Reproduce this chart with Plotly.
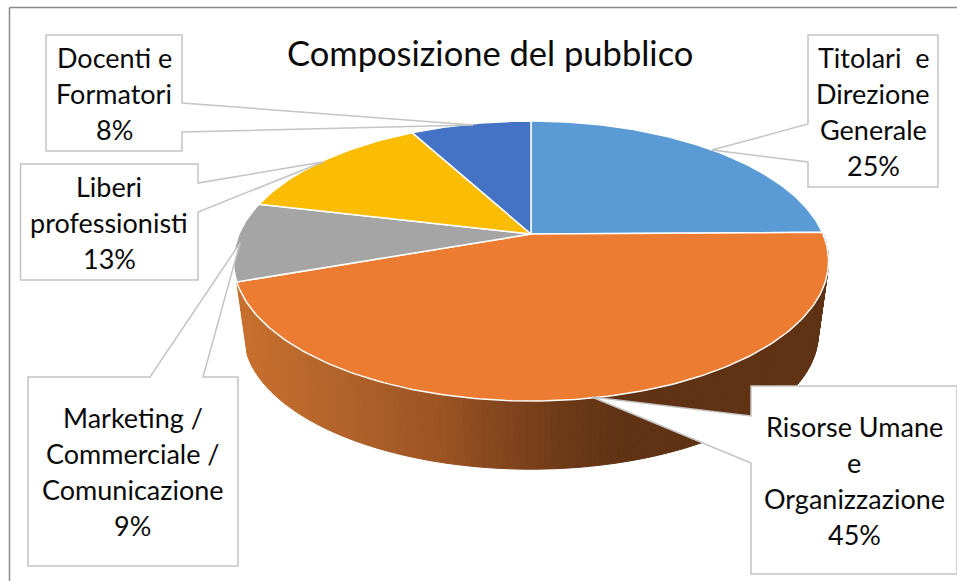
import math
import plotly.graph_objects as go

# ---- data ----
categories = [
    ["Titolari  e", "Direzione", "Generale"],
    ["Risorse Umane", "e", "Organizzazione"],
    ["Marketing /", "Commerciale /", "Comunicazione"],
    ["Liberi", "professionisti"],
    ["Docenti e", "Formatori"],
]
values = [24.8, 44.8, 9.1, 13.4, 7.9]
colors = ["#5b9bd5", "#eb7c32", "#a5a5a5", "#fbbc04", "#4472c4"]
title = "Composizione del pubblico"

# ---- layout styling ----
FONT = "Lato"
CX, CY = 531.0, 234.0          # apex of the pie on screen
A, B, K = 134.8, 292.0, 0.193  # perspective projection of the top disc
BOT_CY, BOT_S = 308.0, 0.965   # bottom disc
BOX = "#c4c4c4"
TXT = "#0a0a0a"


def proj(theta, r=1.0, cy=CY, s=1.0):
    X, Y = r * math.sin(theta), r * math.cos(theta)
    d = 1 + K * Y
    return CX + s * B * X / d, cy - s * A * Y / d


def lerp_color(x):
    stops = [(240, (200, 112, 46)), (350, (176, 98, 42)), (440, (157, 83, 35)),
             (480, (138, 74, 32)), (560, (110, 58, 23)), (625, (95, 50, 19)), (960, (95, 50, 19))]
    for (x0, c0), (x1, c1) in zip(stops, stops[1:]):
        if x <= x1:
            t = max(0.0, (x - x0) / (x1 - x0))
            return "rgb(%d,%d,%d)" % tuple(round(a + (b - a) * t) for a, b in zip(c0, c1))
    return "rgb(95,50,19)"


total = sum(values)
angles = [0.0]
for v in values:
    angles.append(angles[-1] + v / total * 2 * math.pi)

fig = go.Figure()

# side wall of the big front slice, shaded strip by strip
a0, a1 = angles[1], angles[2]
N = 160
for i in range(N):
    t0 = a0 + (a1 - a0) * i / N
    t1 = a0 + (a1 - a0) * (i + 1) / N
    p = [proj(t0), proj(t1), proj(t1, cy=BOT_CY, s=BOT_S), proj(t0, cy=BOT_CY, s=BOT_S)]
    xs = [q[0] for q in p] + [p[0][0]]
    ys = [q[1] for q in p] + [p[0][1]]
    col = lerp_color(sum(xs[:4]) / 4)
    fig.add_trace(go.Scatter(x=xs, y=ys, mode="lines", fill="toself", fillcolor=col,
                             line=dict(color=col, width=1), hoverinfo="skip", showlegend=False))

# top face slices
for v, c, a, b in zip(values, colors, angles, angles[1:]):
    n = max(4, int(v * 4))
    pts = [proj(a + (b - a) * j / n) for j in range(n + 1)]
    xs = [CX] + [q[0] for q in pts] + [CX]
    ys = [CY] + [q[1] for q in pts] + [CY]
    fig.add_trace(go.Scatter(x=xs, y=ys, mode="lines", fill="toself", fillcolor=c,
                             line=dict(color="#ffffff", width=1.5), hoverinfo="skip",
                             showlegend=False))

shapes = [
    # outer frame
    dict(type="line", x0=9.5, x1=9.5, y0=7.5, y1=581, line=dict(color="#8c8c8c", width=1.5)),
    dict(type="line", x0=9.5, x1=957, y0=7.5, y1=7.5, line=dict(color="#8c8c8c", width=1.5)),
]
callouts = [
    "M808,35 L938,35 L938,187 L808,187 L808,162 L712,150 L808,124 Z",
    "M751,386 L957,386 L957,574 L751,574 L751,463 L592,397 L751,416 Z",
    "M28,377 L150,377 L240,243 L203,377 L238,377 L238,566 L28,566 Z",
    "M20.5,164 L198,164 L198,183 L323,162 L198,212 L198,280 L20.5,280 Z",
    "M46,35 L182,35 L182,103 L473,125 L182,132 L182,151 L46,151 Z",
]
for path in callouts:
    shapes.append(dict(type="path", path=path, fillcolor="#ffffff", line=dict(color=BOX, width=1.5)))

label_pos = [(873, 57), (854, 426), (132.5, 417), (109, 186), (114, 57)]
annotations = [dict(x=490, y=52, text=title, showarrow=False, xanchor="center", yanchor="middle",
                    font=dict(family=FONT, size=34.5, color=TXT))]
for lines, v, (lx, ly) in zip(categories, values, label_pos):
    for i, s in enumerate(lines + ["%d%%" % round(v)]):
        annotations.append(dict(x=lx, y=ly + 36 * i, text=s.replace("  ", "\u00a0\u00a0"), showarrow=False,
                                xanchor="center", yanchor="middle",
                                font=dict(family=FONT, size=27, color=TXT)))

fig.update_layout(
    width=957, height=581, margin=dict(l=0, r=0, t=0, b=0),
    paper_bgcolor="#ffffff", plot_bgcolor="#ffffff", showlegend=False,
    xaxis=dict(range=[0, 957], visible=False, fixedrange=True),
    yaxis=dict(range=[581, 0], visible=False, fixedrange=True),
    shapes=shapes, annotations=annotations,
)
fig.write_html("out.html", config={"displayModeBar": False},
               post_script="document.body.style.margin='0';document.body.style.overflow='hidden';")
